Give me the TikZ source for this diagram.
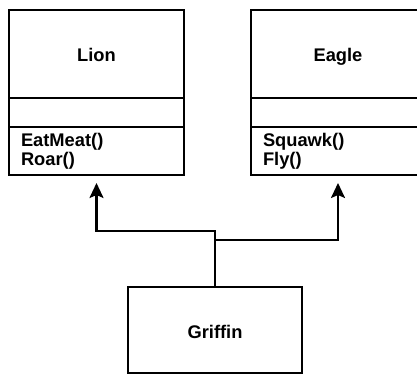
\documentclass[tikz,border=0pt]{standalone}
\usepackage{fontspec}
\setmainfont{Liberation Sans}
\usetikzlibrary{arrows.meta, positioning}

\begin{document}
\begin{tikzpicture}[
  x=1pt, y=-1pt,
  font=\fontsize{18.3}{19}\selectfont\bfseries,
  part/.style={draw, line width=2.3pt, outer sep=0pt, inner sep=0pt, minimum width=175pt},
  title/.style={part, minimum height=88pt, text height=14pt, text depth=0pt},
  ops/.style={part, minimum height=48pt, align=left},
  arr/.style={-{Stealth[length=15pt, width=14pt, inset=3pt]}, line width=2.3pt}
]
  \clip (0,0) rectangle (417,375);

  % classes
  \node[title] (lion) at (96.5,54) {Lion};
  \node[part, minimum height=29pt, below=0pt of lion] (lionattr) {};
  \node[ops, text width=151pt, below=0pt of lionattr] (lionops) {EatMeat()\\Roar()};

  \node[title, minimum width=174pt] (eagle) at (338,54) {Eagle};
  \node[part, minimum width=174pt, minimum height=29pt, below=0pt of eagle] (eagleattr) {};
  \node[ops, minimum width=174pt, text width=150pt, below=0pt of eagleattr] (eagleops) {Squawk()\\Fly()};

  \node[part, minimum width=174pt, minimum height=86pt, text height=16pt, text depth=0pt] (griffin) at (215,330) {Griffin};

  % inheritance
  \coordinate (jl) at ([yshift=56pt]griffin.north);
  \coordinate (jr) at ([yshift=47pt]griffin.north);
  \draw[arr] (griffin.north) -- (jl) -| ([yshift=-8pt]lionops.south);
  \draw[arr] (jr) -| ([yshift=-8pt]eagleops.south);
\end{tikzpicture}
\end{document}
